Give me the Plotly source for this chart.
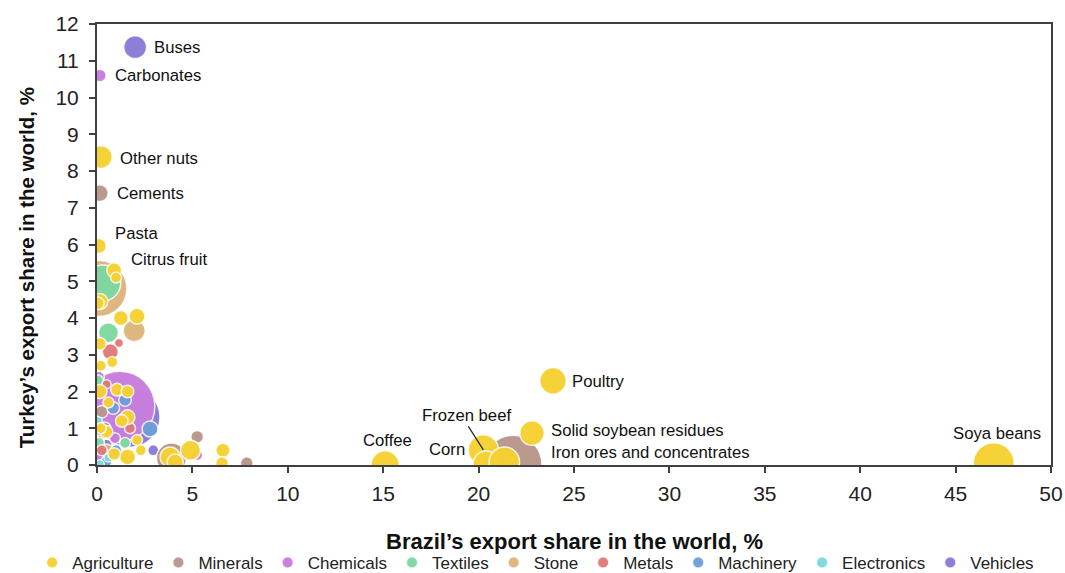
import plotly.graph_objects as go

# ---------------- data ----------------
categories = ["Agriculture", "Minerals", "Chemicals", "Textiles", "Stone",
              "Metals", "Machinery", "Electronics", "Vehicles"]
colors = {"Agriculture": "#F5D131", "Minerals": "#B9968B", "Chemicals": "#C77EDC",
          "Textiles": "#7ED8A0", "Stone": "#DDB47C", "Metals": "#DE7A78",
          "Machinery": "#6F9EDC", "Electronics": "#7CDADA", "Vehicles": "#8A7AD6"}

# Brazil share (x), Turkey share (y), bubble value (export value)
agri_x = [0.2, 0.1, 0.9, 23.9, 22.8, 20.25, 20.4, 21.35, 15.1, 47.0,
          0.15, 1.25, 2.1, 0.15, 0.8, 0.2, 0.15, 1.05, 1.6, 1.6,
          1.3, 0.5, 1.6, 2.3, 2.1, 3.83, 4.9, 4.1, 6.6, 6.55,
          0.9, 0.6, 0.2, 1.0, 0.05]
agri_y = [8.38, 5.96, 5.3, 2.29, 0.87, 0.41, 0.02, 0.08, 0.0, 0.05,
          4.45, 4.0, 4.05, 3.3, 2.8, 2.7, 2.0, 2.05, 2.0, 1.3,
          1.2, 0.9, 0.22, 0.4, 0.68, 0.22, 0.4, 0.08, 0.4, 0.05,
          0.3, 1.7, 1.0, 5.1, 4.4]
agri_v = [13.0, 5.5, 5.5, 17.5, 15.0, 23.0, 17.5, 23.0, 20.0, 42.0,
          6.4, 5.5, 6.4, 4.0, 3.0, 3.0, 5.0, 4.0, 4.0, 5.5,
          4.0, 4.0, 6.4, 3.0, 3.0, 10.0, 10.0, 6.4, 5.0, 4.0,
          4.0, 3.0, 3.0, 3.0, 4.0]

min_x = [0.15, 21.8, 3.9, 5.25, 7.85, 0.25, 0.1, 0.4]
min_y = [7.4, 0.02, 0.19, 0.77, 0.05, 1.45, 0.5, 1.0]
min_v = [7.0, 84.1, 22.5, 4.0, 4.0, 4.0, 3.0, 4.0]

chem_x = [0.15, 1.2, 0.35, 0.94, 5.25, 0.1, 0.3]
chem_y = [10.6, 1.6, 4.5, 0.73, 0.27, 2.4, 0.2]
chem_v = [4.0, 122.5, 3.0, 3.0, 3.0, 3.0, 5.0]

tex_x = [0.3, 0.6, 0.05, 1.47, 0.1]
tex_y = [4.95, 3.6, 2.3, 0.6, 0.6]
tex_v = [32.4, 10.0, 3.0, 3.0, 3.0]

stone_x = [0.1, 1.95, 0.3, 0.5]
stone_y = [4.8, 3.65, 0.9, 0.4]
stone_v = [78.4, 12.1, 5.0, 4.0]

met_x = [1.15, 0.7, 1.73, 0.15, 0.25, 0.5]
met_y = [3.32, 3.08, 1.0, 0.95, 0.4, 2.2]
met_v = [2.0, 6.4, 3.0, 3.0, 3.0, 2.0]

mach_x = [1.47, 0.85, 2.78, 1.0, 0.5]
mach_y = [1.77, 1.55, 0.98, 0.4, 0.1]
mach_v = [4.0, 4.0, 6.4, 3.0, 3.0]

elec_x = [0.15, 0.6, 0.05]
elec_y = [0.02, 0.2, 1.2]
elec_v = [2.0, 2.0, 2.0]

veh_x = [2.0, 1.73, 2.95, 0.5]
veh_y = [11.37, 1.3, 0.4, 0.55]
veh_v = [13.0, 90.0, 3.0, 3.0]

series = {"Agriculture": (agri_x, agri_y, agri_v), "Minerals": (min_x, min_y, min_v),
          "Chemicals": (chem_x, chem_y, chem_v), "Textiles": (tex_x, tex_y, tex_v),
          "Stone": (stone_x, stone_y, stone_v), "Metals": (met_x, met_y, met_v),
          "Machinery": (mach_x, mach_y, mach_v), "Electronics": (elec_x, elec_y, elec_v),
          "Vehicles": (veh_x, veh_y, veh_v)}

labels = ["Buses", "Carbonates", "Other nuts", "Cements", "Pasta", "Citrus fruit",
          "Poultry", "Frozen beef", "Solid soybean residues", "Corn",
          "Iron ores and concentrates", "Coffee", "Soya beans"]
label_x = [2.88, 0.84, 1.10, 0.94, 0.84, 1.68, 24.79, 16.93, 23.69, 17.30, 23.69, 13.84, 44.76]
label_y = [11.37, 10.61, 8.35, 7.40, 6.31, 5.58, 2.26, 1.36, 0.93, 0.41, 0.35, 0.68, 0.87]

x_ticks = [0, 5, 10, 15, 20, 25, 30, 35, 40, 45, 50]
y_ticks = list(range(0, 13))

# ---------------- figure ----------------
FONT = "Liberation Sans, Arial, sans-serif"
draw_order = ["Vehicles", "Chemicals", "Stone", "Minerals", "Textiles",
              "Metals", "Machinery", "Electronics", "Agriculture"]

fig = go.Figure()
for cat in draw_order:
    xs, ys, vs = series[cat]
    fig.add_trace(go.Scatter(
        x=xs, y=ys, mode="markers", name=cat,
        legendrank=categories.index(cat) + 1,
        marker=dict(size=vs, sizemode="area", sizeref=0.05, color=colors[cat],
                    opacity=0.97, line=dict(color="rgba(255,255,255,0.85)", width=1.5)),
        cliponaxis=True,
    ))

for t, lx, ly in zip(labels, label_x, label_y):
    fig.add_annotation(x=lx, y=ly, text=t, showarrow=False, xanchor="left",
                       yanchor="middle", font=dict(family=FONT, size=16.7, color="#111"))

# leader line for Frozen beef
fig.add_annotation(x=agri_x[5], y=agri_y[5], text="", showarrow=True, arrowhead=0,
                   arrowwidth=1.2, arrowcolor="#222", ax=-16, ay=-25, axref="pixel", ayref="pixel")

axis_common = dict(showgrid=False, zeroline=False, showline=True, linecolor="#404040",
                   linewidth=2, mirror=True, ticks="outside", ticklen=6, tickwidth=2,
                   tickcolor="#404040", tickfont=dict(family=FONT, size=21, color="#222"))
fig.update_xaxes(range=[0, 50], tickvals=x_ticks, automargin=False,
                 ticklabelstandoff=3, **axis_common)
fig.update_yaxes(range=[0, 12], tickvals=y_ticks, automargin=False,
                 ticklabelstandoff=6, **axis_common)

fig.add_annotation(xref="paper", yref="paper", x=0.5, y=-0.174, yanchor="middle",
                   text="<b>Brazil’s export share in the world, %</b>", showarrow=False,
                   font=dict(family=FONT, size=22, color="#111"))
fig.add_annotation(xref="paper", yref="paper", x=-0.073, y=0.447, xanchor="center",
                   text="<b>Turkey’s export share in the world, %</b>", showarrow=False,
                   textangle=-90, font=dict(family=FONT, size=20.5, color="#111"))

fig.update_layout(
    width=1065, height=573,
    margin=dict(l=97, r=14, t=24, b=108, autoexpand=False),
    paper_bgcolor="white", plot_bgcolor="white",
    font=dict(family=FONT),
    legend=dict(orientation="h", x=-0.068, xanchor="left", y=-0.222, yanchor="middle",
                itemsizing="constant", font=dict(family=FONT, size=17, color="#222"),
                traceorder="normal", tracegroupgap=0, itemwidth=30,
                bgcolor="rgba(0,0,0,0)"),
)

fig.write_html("out.html", config={"displayModeBar": False},
               post_script="document.body.style.margin='0';")
